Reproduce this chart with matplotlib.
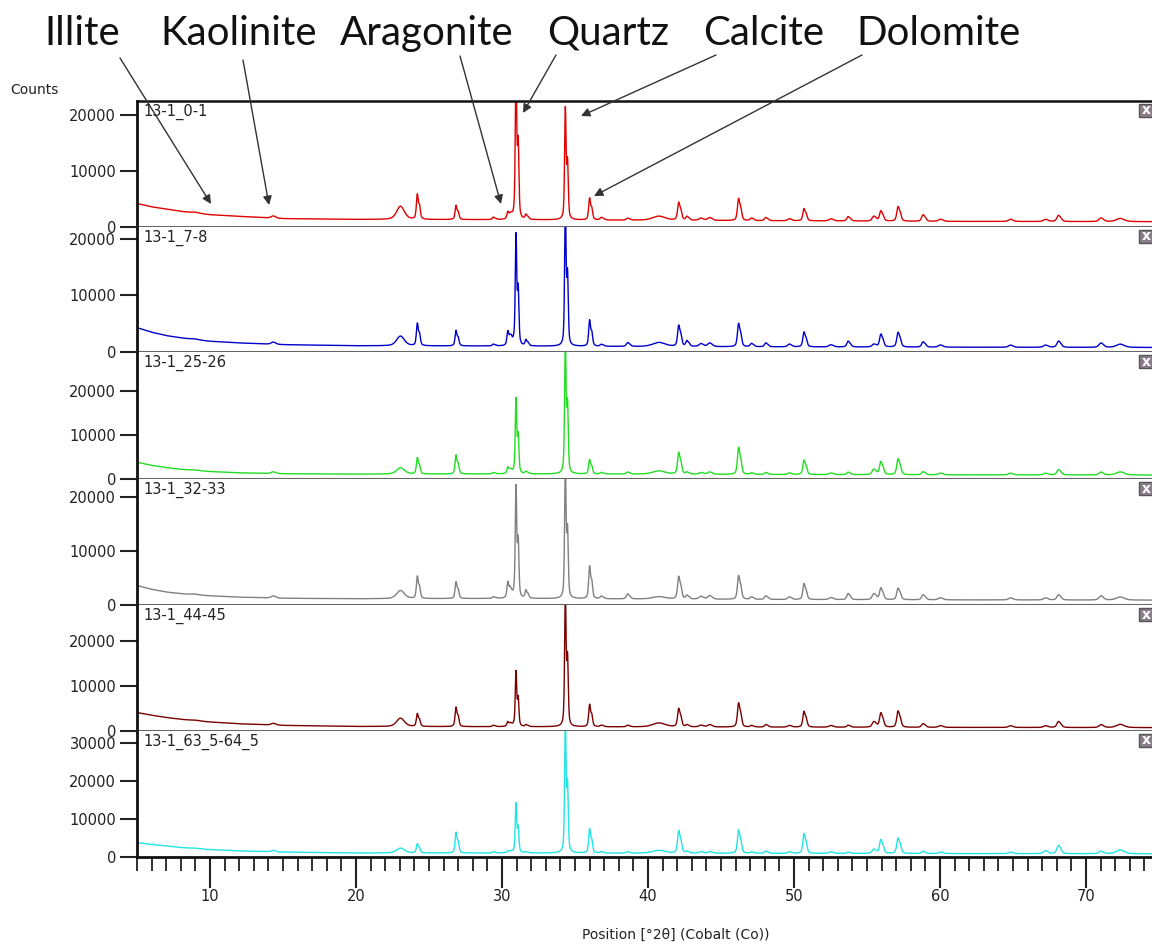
import numpy as np
import matplotlib
matplotlib.use("Agg")
import matplotlib.pyplot as plt
from matplotlib.patches import Rectangle, FancyArrowPatch
from matplotlib.ticker import MultipleLocator, FixedLocator

# ---------------- data ----------------
sample_names = ["13-1_0-1", "13-1_7-8", "13-1_25-26", "13-1_32-33", "13-1_44-45", "13-1_63_5-64_5"]
line_colors = ["#e00000", "#0000cc", "#22dd22", "#808080", "#7a0000", "#22e4e4"]

# peak positions [deg 2theta] and widths (FWHM)
peak_pos = [8.9, 14.3, 23.0, 24.2, 26.85, 29.4, 30.4, 30.65, 30.96, 31.64, 34.34, 36.0, 36.8,
            38.6, 40.7, 42.1, 42.66, 43.6, 44.2, 46.2, 47.08, 48.06, 49.66, 50.68, 52.5, 53.7,
            55.45, 55.94, 57.12, 58.83, 60.0, 64.8, 67.2, 68.1, 71.0, 72.3]
peak_fwhm = [0.5, 0.3, 0.6, 0.15, 0.15, 0.15, 0.15, 0.15, 0.12, 0.15, 0.12, 0.15, 0.2,
             0.2, 1.0, 0.18, 0.18, 0.3, 0.3, 0.18, 0.2, 0.2, 0.25, 0.18, 0.3, 0.2,
             0.25, 0.2, 0.2, 0.22, 0.3, 0.3, 0.3, 0.25, 0.3, 0.6]

# peak heights above background, one list per sample
h_0_1 = [100, 300, 1650, 4250, 2400, 400, 1200, 600, 26000, 800, 19500, 3700, 400, 300, 500, 2900,
         600, 300, 400, 3600, 400, 500, 300, 2000, 300, 700, 700, 1600, 2300, 1000, 300, 300, 300, 900, 500, 400]
h_7_8 = [80, 300, 1200, 3750, 2600, 300, 2400, 1000, 19200, 1000, 24000, 4400, 300, 600, 500, 3400,
         900, 400, 500, 3750, 500, 600, 400, 2400, 300, 900, 400, 2000, 2300, 800, 300, 300, 300, 900, 600, 400]
h_25_26 = [80, 300, 1000, 3500, 4100, 300, 1400, 500, 16700, 500, 30000, 3100, 300, 400, 500, 4500,
           400, 300, 400, 5600, 300, 400, 300, 3000, 300, 500, 1000, 2600, 3200, 600, 300, 300, 300, 1000, 500, 500]
h_32_33 = [80, 300, 1050, 3900, 2950, 300, 2800, 800, 20200, 1400, 24000, 5700, 400, 800, 300, 3800,
           600, 400, 500, 4000, 400, 600, 400, 2700, 300, 1000, 900, 1900, 1900, 800, 300, 300, 300, 800, 600, 400]
h_44_45 = [80, 300, 1300, 2700, 4100, 300, 1000, 400, 12000, 400, 29000, 4700, 300, 300, 600, 3700,
           400, 300, 400, 4900, 300, 500, 300, 3200, 300, 400, 1000, 2800, 3200, 700, 300, 300, 300, 1100, 500, 500]
h_63_64 = [80, 300, 900, 2300, 5200, 300, 500, 300, 12800, 300, 34000, 6100, 300, 300, 500, 5400,
           400, 300, 300, 5600, 300, 500, 300, 4700, 300, 300, 900, 3200, 3600, 500, 300, 300, 600, 1800, 500, 700]
peak_heights = [h_0_1, h_7_8, h_25_26, h_32_33, h_44_45, h_63_64]

# background level at a few positions
bg_pos = [5, 6, 7, 8, 10, 12, 15, 20, 30, 40, 50, 60, 75]
bg_0_1 = [4200, 3600, 3200, 2800, 2200, 1900, 1500, 1350, 1300, 1200, 1100, 1000, 950]
bg_7_8 = [4300, 3500, 2900, 2500, 1900, 1600, 1300, 1100, 1050, 950, 900, 850, 800]
bg_25_26 = [3800, 3100, 2600, 2200, 1700, 1400, 1200, 1100, 1150, 1100, 1000, 950, 900]
bg_32_33 = [3600, 2900, 2400, 2100, 1700, 1450, 1250, 1150, 1200, 1100, 1000, 950, 900]
bg_44_45 = [4100, 3500, 3000, 2600, 2000, 1600, 1250, 1000, 950, 900, 850, 800, 750]
bg_63_64 = [3800, 3300, 2900, 2500, 1950, 1600, 1300, 1050, 1050, 1000, 950, 900, 850]
backgrounds = [bg_0_1, bg_7_8, bg_25_26, bg_32_33, bg_44_45, bg_63_64]

y_tops = [22500, 22100, 28900, 23300, 28000, 33200]
y_ticks = [[0, 10000, 20000]] * 5 + [[0, 10000, 20000, 30000]]

minerals = ["Illite", "Kaolinite", "Aragonite", "Quartz", "Calcite", "Dolomite"]

# ---------------- layout (pixels) ----------------
W, H = 1152, 947
fig = plt.figure(figsize=(W / 100, H / 100), dpi=100)


def fx(x):
    return x / W


def fy(y):
    return 1 - y / H


panel_px = [(101, 227), (227, 352), (352, 479), (479, 605), (605, 731), (731, 857)]
left_px, right_px = 137, 1160
px_per_deg = 14.6
x_lo = 5.0
x_hi = x_lo + (right_px - left_px) / px_per_deg

tt = np.arange(5.0, 75.5, 0.02)


def profile(pos, heights, fwhm, bgx, bgy):
    y = np.interp(tt, bgx, bgy)
    for p, h, w in zip(pos, heights, fwhm):
        for off, frac in ((0.0, 1.0), (0.15, 0.5)):
            d = (tt - p - off) / w
            g = np.exp(-4 * np.log(2) * d ** 2)
            lor = 1 / (1 + 4 * d ** 2)
            y = y + h * frac * (0.5 * g + 0.5 * lor)
    return y


for i, (top, bot) in enumerate(panel_px):
    ax = fig.add_axes([fx(left_px), fy(bot), fx(right_px) - fx(left_px), (bot - top) / H])
    yy = profile(peak_pos, peak_heights[i], peak_fwhm, bg_pos, backgrounds[i])
    ax.plot(tt, yy, color=line_colors[i], lw=1.0, clip_on=True)
    ax.set_xlim(x_lo, x_hi)
    ax.set_ylim(0, y_tops[i])
    ax.yaxis.set_major_locator(FixedLocator(y_ticks[i]))
    ax.tick_params(axis="y", direction="out", length=12, width=1.5, labelsize=10.5, pad=3,
                   colors="#222222")
    ax.spines["right"].set_visible(False)
    ax.spines["left"].set_linewidth(2)
    ax.spines["left"].set_color("#111111")
    if i == 0:
        ax.spines["top"].set_linewidth(1.8)
        ax.spines["top"].set_color("#111111")
    else:
        ax.spines["top"].set_visible(False)
    if i < 5:
        ax.spines["bottom"].set_color("#666666")
        ax.spines["bottom"].set_linewidth(2.2)
        ax.tick_params(axis="x", which="both", bottom=False, labelbottom=False)
    else:
        ax.spines["bottom"].set_color("#111111")
        ax.spines["bottom"].set_linewidth(2)
        ax.xaxis.set_major_locator(MultipleLocator(10))
        ax.xaxis.set_minor_locator(MultipleLocator(1))
        ax.tick_params(axis="x", which="major", direction="out", length=22, width=1.5,
                       labelsize=10.5, pad=1, colors="#222222")
        ax.tick_params(axis="x", which="minor", direction="out", length=10, width=1.3,
                       colors="#222222")
    fig.text(fx(143), fy(top + 11), sample_names[i], ha="left", va="center", fontsize=10.5,
             color="#222222")
    # close icon at the top right of each panel
    fig.add_artist(Rectangle((fx(1139), fy(top + 16)), 14 / W, 13 / H,
                             transform=fig.transFigure, facecolor="#8c7c8c",
                             edgecolor="#555555", lw=1))
    fig.text(fx(1146), fy(top + 9.5), "x", ha="center", va="center", fontsize=10,
             color="white", fontweight="bold")

fig.text(fx(10), fy(90), "Counts", ha="left", va="center", fontsize=10, color="#222222")
fig.text(fx(676), fy(935), "Position [°2θ] (Cobalt (Co))", ha="center", va="center",
         fontsize=10, color="#222222")

# mineral labels and arrows
label_cx = [82, 239, 427, 608, 764, 938]
arrow_from = [(120, 58), (243, 60), (460, 56), (556, 55), (716, 55), (862, 55)]
arrow_to = [(211, 204), (269, 205), (501, 204), (523, 113), (581, 116), (594, 196)]
for name, cx, a0, a1 in zip(minerals, label_cx, arrow_from, arrow_to):
    fig.text(fx(cx), fy(45), name, ha="center", va="baseline", fontsize=29,
             family="Lato", color="#111111")
    fig.add_artist(FancyArrowPatch(posA=(fx(a0[0]), fy(a0[1])), posB=(fx(a1[0]), fy(a1[1])),
                                   transform=fig.transFigure, arrowstyle="-|>",
                                   mutation_scale=13, lw=1.0, color="#333333",
                                   shrinkA=0, shrinkB=0))

fig.savefig("out.png", dpi=100)
